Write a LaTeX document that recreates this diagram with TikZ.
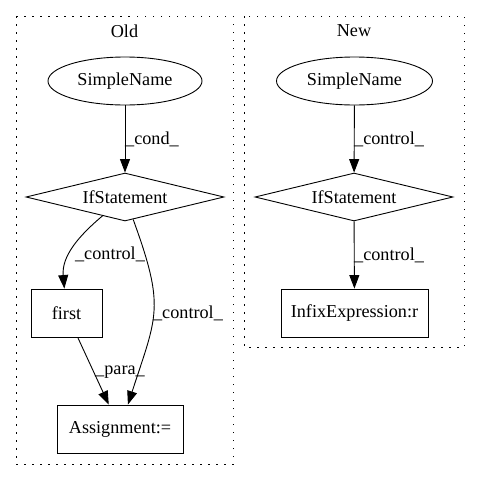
\documentclass[tikz,border=0pt]{standalone}
\usepackage{fontspec}
\setmainfont{Liberation Serif}
\usetikzlibrary{shapes.geometric,arrows.meta}
\begin{document}
\begin{tikzpicture}[x=1pt,y=1pt,
  every node/.style={font=\fontsize{18.2}{20}\selectfont, inner sep=0pt},
  ell/.style={draw, ellipse, minimum width=154pt, minimum height=48pt, line width=0.9pt},
  dia/.style={draw, diamond, aspect=4.1, minimum width=198pt, minimum height=48pt, line width=0.9pt},
  box/.style={draw, rectangle, minimum height=48pt, line width=0.9pt},
  arr/.style={line width=0.9pt, -{Triangle[length=13.5pt,width=10pt]}},
  clus/.style={line width=1pt, dash pattern=on 1.5pt off 6.5pt}
]
\useasboundingbox (0,0) rectangle (480,-480);
\fill[white] (0,0) rectangle (480,-480);
% clusters
\draw[clus] (16,-16) rectangle (233,-464);
\draw[clus] (244,-16) rectangle (464,-347);
\node (oldlbl) at (124.5,-31) {Old};
\node (newlbl) at (354,-31) {New};
% Old
\node[ell] (osn) at (125,-81) {SimpleName};
\node[dia] (oif) at (125,-197) {IfStatement};
\node[box, minimum width=71pt] (first) at (66.5,-313) {first};
\node[box, minimum width=126pt] (asg) at (120,-429) {Assignment:=};
\draw[arr] (osn) -- (oif);
\node[anchor=west] (lcond) at (125,-139) {\_cond\_};
\draw[arr] (oif) to[out=-140,in=95] (first);
\node (lc1) at (110,-254) {\_control\_};
\draw[arr] (oif) to[out=-70,in=72,looseness=1.3] (asg);
\node (lc2) at (188,-313) {\_control\_};
\draw[arr] (first) -- (asg);
\node (lpara) at (120,-372) {\_para\_};
% New
\node[ell, minimum width=156pt] (nsn) at (354.5,-81) {SimpleName};
\node[dia] (nif) at (354,-197) {IfStatement};
\node[box, minimum width=147pt] (infix) at (354.5,-313) {InfixExpression:r};
\draw[arr] (nsn) -- (nif);
\node[anchor=west] (lc3) at (354,-139) {\_control\_};
\draw[arr] (nif) -- (infix);
\node[anchor=west] (lc4) at (354,-255) {\_control\_};
\end{tikzpicture}
\end{document}
